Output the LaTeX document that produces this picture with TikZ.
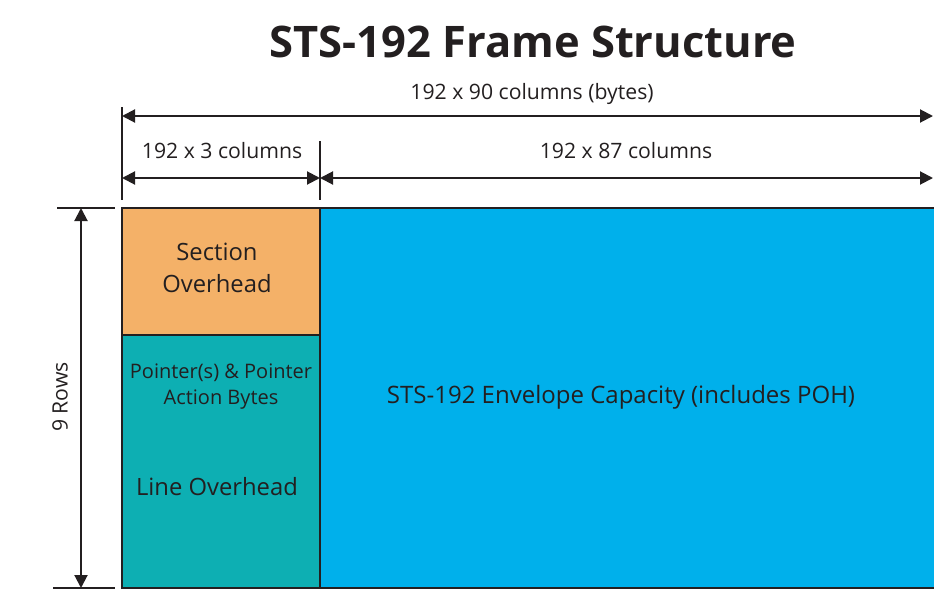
\documentclass[tikz,border=0pt]{standalone}
\usepackage{fontspec}
\setmainfont{Open Sans}
\usetikzlibrary{arrows.meta}
\definecolor{txt}{HTML}{231F20}
\definecolor{sohc}{HTML}{F4B168}
\definecolor{lohc}{HTML}{0DAFB3}
\definecolor{envc}{HTML}{00B0EB}
\tikzset{
  region/.style={draw=txt, line width=2pt, inner sep=0pt, text=txt, align=center},
  dimline/.style={draw=txt, line width=2pt, {Triangle[length=13pt,width=13pt]}-{Triangle[length=13pt,width=13pt]}},
  tick/.style={draw=txt, line width=1.5pt},
  lbl/.style={text=txt, inner sep=0pt, font=\fontsize{21.2}{24}\selectfont}
}
\begin{document}
\begin{tikzpicture}[x=1pt,y=-1pt]
\useasboundingbox (0,0) rectangle (934,594);
\clip (0,0) rectangle (934,594);
\node[text=txt, font=\fontsize{43.5}{50}\selectfont\bfseries] (title) at (533,42) {STS-192 Frame Structure};
% regions
\node[region, fill=envc, minimum width=625pt, minimum height=380pt] (env) at (632.5,398) {};
\node[region, fill=sohc, minimum width=198pt, minimum height=127pt] (soh) at (221,271.5) {};
\node[region, fill=lohc, minimum width=198pt, minimum height=253pt] (loh) at (221,461.5) {};
\node[lbl, font=\fontsize{23.8}{32}\selectfont, align=center] (sohl) at (217,268) {Section\\Overhead};
\node[lbl, font=\fontsize{20}{26}\selectfont, align=center] (ptrl) at (221,387) {Pointer(s) \& Pointer\\Action Bytes};
\node[lbl, font=\fontsize{23.8}{26}\selectfont] (lohl) at (217,487) {Line Overhead};
\node[lbl, font=\fontsize{24}{26}\selectfont] (envl) at (621,397) {STS-192 Envelope Capacity (includes POH)};
% ticks
\coordinate (t1a) at (122,107); \coordinate (t1b) at (122,200);
\coordinate (t2a) at (320,141); \coordinate (t2b) at (320,200);
\coordinate (h1a) at (57,208); \coordinate (h1b) at (115,208);
\coordinate (h2a) at (53,588); \coordinate (h2b) at (115,588);
\draw[tick] (t1a) -- (t1b);
\draw[tick] (t2a) -- (t2b);
\draw[tick] (h1a) -- (h1b);
\draw[tick] (h2a) -- (h2b);
% dimension arrows
\coordinate (a1l) at (122,116); \coordinate (a1r) at (933,116);
\coordinate (a2l) at (122,178); \coordinate (a2m) at (320,178); \coordinate (a2r) at (933,178);
\coordinate (vt) at (81,208); \coordinate (vb) at (81,588);
\draw[dimline] (a1l) -- (a1r);
\draw[dimline] (a2l) -- (a2m);
\draw[dimline] (a2m) -- (a2r);
\draw[dimline] (vt) -- (vb);
\node[lbl] (l90) at (532,94) {192 x 90 columns (bytes)};
\node[lbl] (l3) at (222,151) {192 x 3 columns};
\node[lbl] (l87) at (626,151) {192 x 87 columns};
\node[lbl, rotate=90] (lrows) at (60,397) {9 Rows};
\end{tikzpicture}
\end{document}
